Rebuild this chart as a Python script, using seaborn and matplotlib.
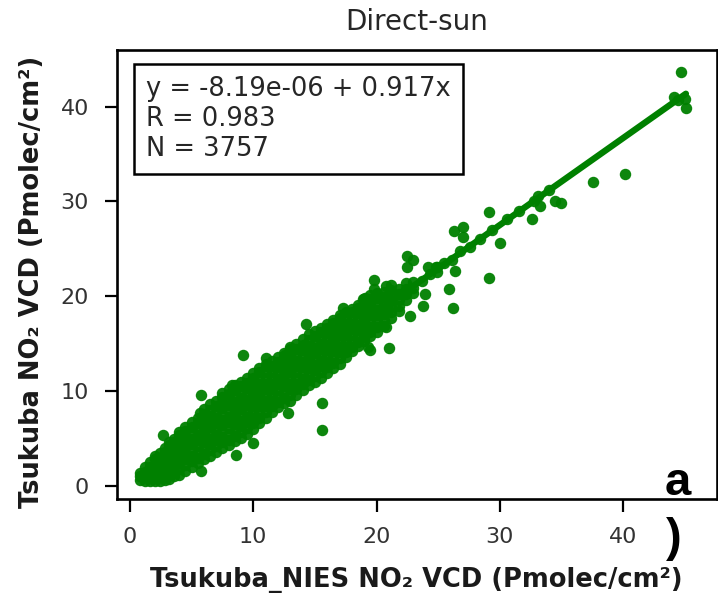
import numpy as np
import pandas as pd
import matplotlib
matplotlib.use("Agg")
import matplotlib.pyplot as plt
import seaborn as sns

# ---------------- data ----------------
# dense core of the cloud, read column by column: x -> y values
core_cols = {
    0.8: [0.6, 1.0, 1.4],
    1.2: [0.5, 1.0, 1.5, 2.0],
    1.6: [0.5, 1.0, 1.5, 2.0, 2.5],
    2.0: [0.5, 1.0, 1.6, 2.2, 2.8, 3.2],
    2.4: [0.5, 1.1, 1.7, 2.3, 2.9, 3.5],
    2.8: [0.6, 1.2, 1.8, 2.4, 3.0, 3.6, 4.0],
    3.2: [0.7, 1.3, 1.9, 2.5, 3.1, 3.7, 4.3, 4.6],
    3.6: [1.0, 1.6, 2.2, 2.8, 3.4, 4.0, 4.6, 5.0],
    4.0: [1.2, 1.8, 2.4, 3.0, 3.6, 4.2, 4.8, 5.4, 5.7],
    4.5: [1.6, 2.2, 2.8, 3.4, 4.0, 4.6, 5.2, 5.8, 6.2],
    5.0: [2.0, 2.6, 3.2, 3.8, 4.4, 5.0, 5.6, 6.2, 6.7],
    5.5: [2.4, 3.0, 3.6, 4.2, 4.8, 5.4, 6.0, 6.6, 7.2],
    6.0: [2.8, 3.4, 4.0, 4.6, 5.2, 5.8, 6.4, 7.0, 7.6, 8.1],
    6.5: [3.2, 3.8, 4.4, 5.0, 5.6, 6.2, 6.8, 7.4, 8.0, 8.6],
    7.0: [3.6, 4.2, 4.8, 5.4, 6.0, 6.6, 7.2, 7.8, 8.4, 9.0],
    7.5: [4.0, 4.6, 5.2, 5.8, 6.4, 7.0, 7.6, 8.2, 8.8, 9.4, 9.8],
    8.0: [4.3, 4.9, 5.5, 6.1, 6.7, 7.3, 7.9, 8.5, 9.1, 9.7, 10.2],
    8.5: [4.7, 5.3, 5.9, 6.5, 7.1, 7.7, 8.3, 8.9, 9.5, 10.1, 10.6],
    9.0: [5.1, 5.7, 6.3, 6.9, 7.5, 8.1, 8.7, 9.3, 9.9, 10.5, 11.0],
    9.5: [5.5, 6.1, 6.7, 7.3, 7.9, 8.5, 9.1, 9.7, 10.3, 10.9, 11.4],
    10.0: [6.0, 6.6, 7.2, 7.8, 8.4, 9.0, 9.6, 10.2, 10.8, 11.4, 11.9],
    10.5: [6.6, 7.2, 7.8, 8.4, 9.0, 9.6, 10.2, 10.8, 11.4, 12.0, 12.4],
    11.0: [7.2, 7.8, 8.4, 9.0, 9.6, 10.2, 10.8, 11.4, 12.0, 12.6, 12.9],
    11.5: [7.8, 8.4, 9.0, 9.6, 10.2, 10.8, 11.4, 12.0, 12.6, 13.2],
    12.0: [8.3, 8.9, 9.5, 10.1, 10.7, 11.3, 11.9, 12.5, 13.1, 13.6],
    12.5: [8.7, 9.3, 9.9, 10.5, 11.1, 11.7, 12.3, 12.9, 13.5, 14.0],
    13.0: [9.0, 9.6, 10.2, 10.8, 11.4, 12.0, 12.6, 13.2, 13.8, 14.4, 14.7],
    13.5: [9.6, 10.2, 10.8, 11.4, 12.0, 12.6, 13.2, 13.8, 14.4, 15.0],
    14.0: [10.1, 10.7, 11.3, 11.9, 12.5, 13.1, 13.7, 14.3, 14.9, 15.5],
    14.5: [10.6, 11.2, 11.8, 12.4, 13.0, 13.6, 14.2, 14.8, 15.4, 16.0],
    15.0: [11.0, 11.6, 12.2, 12.8, 13.4, 14.0, 14.6, 15.2, 15.8, 16.3],
    15.5: [11.4, 12.0, 12.6, 13.2, 13.8, 14.4, 15.0, 15.6, 16.2, 16.7],
    16.0: [11.9, 12.5, 13.1, 13.7, 14.3, 14.9, 15.5, 16.1, 16.7, 17.1],
    16.5: [12.4, 13.0, 13.6, 14.2, 14.8, 15.4, 16.0, 16.6, 17.2, 17.5],
    17.0: [12.9, 13.5, 14.1, 14.7, 15.3, 15.9, 16.5, 17.1, 17.7, 18.0],
    17.5: [13.6, 14.1, 14.7, 15.3, 15.9, 16.5, 17.1, 17.7, 18.3],
    18.0: [14.2, 14.7, 15.3, 15.9, 16.5, 17.1, 17.7, 18.3, 18.7],
    18.5: [14.8, 15.2, 15.8, 16.4, 17.0, 17.6, 18.2, 18.8, 19.1],
    19.0: [15.3, 15.7, 16.3, 16.9, 17.5, 18.1, 18.7, 19.3, 19.7],
    19.5: [15.8, 16.2, 16.8, 17.4, 18.0, 18.6, 19.2, 19.7, 20.1],
    20.0: [16.2, 16.8, 17.4, 18.0, 18.6, 19.2, 19.8, 20.3],
    20.6: [16.9, 17.5, 18.1, 18.7, 19.3, 19.9, 20.5],
    21.2: [17.7, 18.3, 18.9, 19.5, 20.1, 20.7, 21.2],
    21.8: [18.4, 19.0, 19.6, 20.2, 20.8],
    22.4: [19.6, 20.2, 20.8, 21.4],
    23.0: [20.3, 20.9, 21.5],
}

# points lying along the upper part of the fit line
line_x = [23.7, 24.3, 24.9, 25.5, 26.1, 26.8, 27.6, 28.4, 29.4, 30.6, 31.6, 32.8, 34.0]
line_y = [21.6, 22.4, 22.6, 23.5, 23.8, 24.8, 25.2, 26.0, 27.0, 28.1, 29.0, 30.1, 31.2]

# scattered points away from the core
out_x = [44.7, 44.1, 45.0, 45.1, 44.5, 40.2, 37.6, 34.5, 35.0, 33.1, 33.3, 32.6, 29.1, 30.0,
         29.1, 26.3, 27.0, 27.0, 25.9, 26.2, 22.5, 23.0, 22.5, 24.2, 24.8, 26.4, 23.9, 23.75,
         22.7, 19.8, 20.8, 19.8, 21.0, 19.5, 20.8, 17.3, 18.9, 14.3, 15.6, 15.6, 9.2, 11.0,
         5.8, 2.7, 5.8, 8.6, 10.0, 12.8, 8.3, 5.7, 19.3, 12.6, 13.9, 24.9, 19.1]
out_y = [43.6, 41.0, 40.8, 39.9, 40.7, 32.9, 32.0, 30.1, 29.8, 30.6, 29.5, 28.1, 28.9, 25.6,
         21.9, 26.9, 27.3, 26.2, 20.8, 18.8, 24.2, 23.8, 23.1, 23.1, 23.1, 22.7, 20.2, 19.0,
         17.9, 21.7, 21.1, 20.8, 14.6, 14.3, 16.8, 18.8, 19.7, 17.1, 8.7, 5.9, 13.8, 13.5,
         9.6, 5.4, 1.6, 3.3, 4.5, 7.7, 10.6, 7.7, 14.7, 13.8, 14.5, 23.1, 19.8]

fit_intercept = -8.19e-06
fit_slope = 0.917
stats_text = "y = -8.19e-06 + 0.917x\nR = 0.983\nN = 3757"
title_text = "Direct-sun"
xlabel_text = "Tsukuba_NIES NO\u2082 VCD (Pmolec/cm\u00b2)"
ylabel_text = "Tsukuba NO\u2082 VCD (Pmolec/cm\u00b2)"
x_ticks = [0, 10, 20, 30, 40]
y_ticks = [0, 10, 20, 30, 40]
tick_labels_x = ["0", "10", "20", "30", "40"]
tick_labels_y = ["0", "10", "20", "30", "40"]

# ---------------- build table ----------------
core_x = [x for x, ys in core_cols.items() for _ in ys]
core_y = [y for ys in core_cols.values() for y in ys]
df = pd.DataFrame({
    "nies": core_x + line_x + out_x,
    "tsukuba": core_y + line_y + out_y,
})
fit_x = np.array([df["nies"].min(), df["nies"].max()])
fit_df = pd.DataFrame({"nies": fit_x, "tsukuba": fit_intercept + fit_slope * fit_x})

# ---------------- style ----------------
sns.set_style("ticks")
plt.rcParams["font.family"] = ["DejaVu Sans"]
plt.rcParams["axes.linewidth"] = 1.9
plt.rcParams["axes.edgecolor"] = "black"

fig = plt.figure(figsize=(7.18, 5.98), dpi=100)
ax = fig.add_axes([0.1625, 0.1656, 0.8357, 0.7508])

sns.scatterplot(data=df, x="nies", y="tsukuba", color="green", s=68, alpha=0.95,
                linewidth=0, ax=ax, zorder=2)
sns.lineplot(data=fit_df, x="nies", y="tsukuba", color="green", linewidth=4.6,
             ax=ax, zorder=3)

ax.set_xlim(-1.08, 47.6)
ax.set_ylim(-1.37, 45.97)

tick_font = dict(family=["DejaVu Sans"], fontsize=16, color="#333333")
ax.set_xticks(x_ticks, tick_labels_x, **tick_font)
ax.set_yticks(y_ticks, tick_labels_y, **tick_font)
ax.tick_params(direction="out", length=9, width=1.6, pad=11, color="black")

ax.set_title(title_text, fontsize=20, color="#262626", pad=14.4)
ax.set_xlabel(xlabel_text, fontsize=18.5, fontweight="bold", color="#1a1a1a")
ax.set_ylabel(ylabel_text, fontsize=18.5, fontweight="bold", color="#1a1a1a")
ax.xaxis.label.set_va("baseline")
ax.yaxis.label.set_va("baseline")
ax.xaxis.set_label_coords(0.5, -0.197)
ax.yaxis.set_label_coords(-0.1295, 0.484)

ax.text(0.0488, 0.942, stats_text, transform=ax.transAxes, ha="left", va="top",
        fontsize=18.5, color="#262626", linespacing=1.2,
        bbox=dict(boxstyle="square,pad=0.47", fc="white", ec="black", lw=1.8), zorder=5)

fig.text(665 / 718, 1 - 495 / 598, "a", family=["Liberation Sans", "DejaVu Sans"],
         fontweight="bold", fontsize=34, color="black", ha="left", va="baseline")
fig.text(666 / 718, 1 - 551 / 598, ")", family=["Liberation Sans", "DejaVu Sans"],
         fontweight="bold", fontsize=34, color="black", ha="left", va="baseline")

fig.savefig("out.png", dpi=100)
